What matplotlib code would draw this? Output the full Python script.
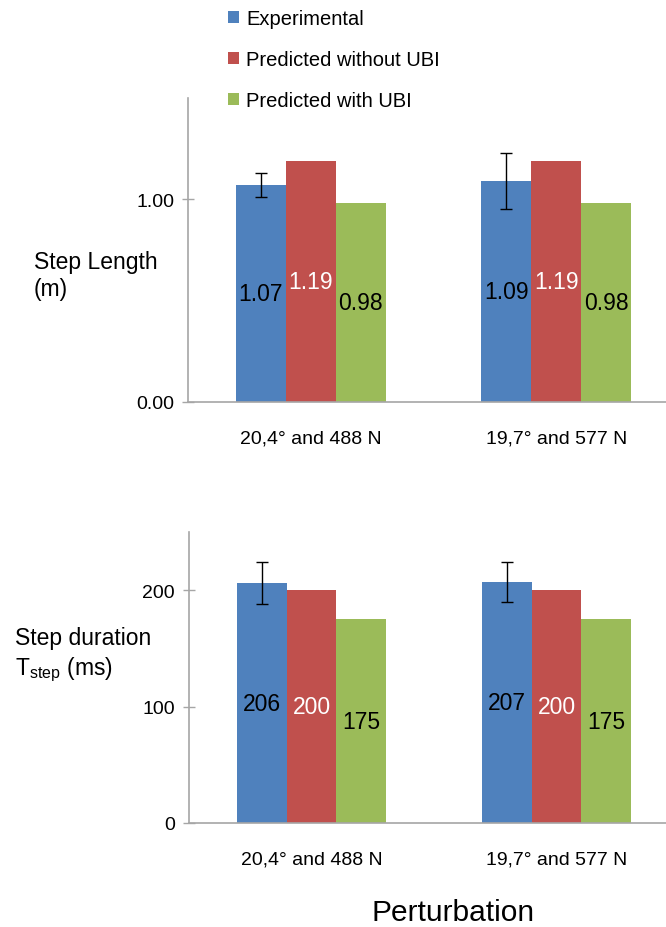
import matplotlib
matplotlib.use("Agg")
import matplotlib.pyplot as plt
import numpy as np

plt.rcParams['font.family'] = ['Liberation Sans', 'DejaVu Sans']
plt.rcParams['mathtext.fontset'] = 'custom'
plt.rcParams['mathtext.rm'] = 'Liberation Sans'

# data
kategoriler = ["20,4° and 488 N", "19,7° and 577 N"]
seriler = ["Experimental", "Predicted without UBI", "Predicted with UBI"]
renkler = ["#4F81BD", "#C0504D", "#9BBB59"]
yazi_renk = ["black", "white", "black"]

boy_deneysel = [1.07, 1.09]
boy_ubisiz = [1.19, 1.19]
boy_ubili = [0.98, 0.98]
boy_hata = [0.06, 0.14]

sure_deneysel = [206, 207]
sure_ubisiz = [200, 200]
sure_ubili = [175, 175]
sure_hata = [18, 17]

W, H = 666, 928
fig = plt.figure(figsize=(W / 100, H / 100), dpi=100)

def eksen(sol, alt, sag, ust):
    return fig.add_axes([sol / W, 1 - alt / H, (sag - sol) / W, (alt - ust) / H])

ax1 = eksen(188, 403, 679, 99)
ax2 = eksen(189, 824, 679, 533)

x = np.arange(len(kategoriler))
gen = 0.204
gri = "#A6A6A6"

def ciz(ax, degerler, hata, fmt, ymax, yticks):
    bars = []
    for i, (d, r, yr) in enumerate(zip(degerler, renkler, yazi_renk)):
        b = ax.bar(x + (i - 1) * gen, d, gen, color=r, label=seriler[i])
        ax.bar_label(b, labels=[fmt.format(v) for v in d], label_type='center',
                     color=yr, fontsize=16.5)
        bars.append(b)
    ax.errorbar(x - gen, degerler[0], yerr=hata, fmt='none', ecolor='black',
                elinewidth=1, capsize=4, capthick=1)
    ax.set_xlim(-0.5, 1.5)
    ax.set_ylim(0, ymax)
    ax.set_yticks(yticks)
    ax.set_xticks(x)
    ax.set_xticklabels(kategoriler, fontsize=14)
    for s in ['top', 'right']:
        ax.spines[s].set_visible(False)
    for s in ['left', 'bottom']:
        ax.spines[s].set_color(gri)
        ax.spines[s].set_linewidth(1.2)
    ax.tick_params(axis='y', direction='inout', length=8, width=1, color=gri,
                   labelsize=14, pad=6)
    ax.tick_params(axis='x', length=0, pad=20)
    return bars

bars = ciz(ax1, [boy_deneysel, boy_ubisiz, boy_ubili], boy_hata, "{:.2f}", 1.5, [0, 1.0])
ax1.set_yticklabels(["0.00", "1.00"])
ciz(ax2, [sure_deneysel, sure_ubisiz, sure_ubili], sure_hata, "{:d}", 250, [0, 100, 200])

fig.legend(bars, seriler, loc='upper left', bbox_to_anchor=(228 / W, 1 - 10 / H),
           frameon=False, fontsize=14.5, handlelength=0.55, handleheight=0.55,
           handletextpad=0.35, labelspacing=1.1, borderpad=0, borderaxespad=0)

fig.text(34 / W, 1 - 269 / H, "Step Length", fontsize=16.5, ha='left', va='baseline')
fig.text(34 / W, 1 - 296 / H, "(m)", fontsize=16.5, ha='left', va='baseline')
fig.text(15 / W, 1 - 645 / H, "Step duration", fontsize=16.5, ha='left', va='baseline')
fig.text(15 / W, 1 - 675 / H, r"T$_{\mathrm{step}}$ (ms)", fontsize=16.5, ha='left', va='baseline')

fig.text(453 / W, 1 - 913 / H, "Perturbation", fontsize=21.5, ha='center', va='center')

fig.savefig("out.png", dpi=100)
